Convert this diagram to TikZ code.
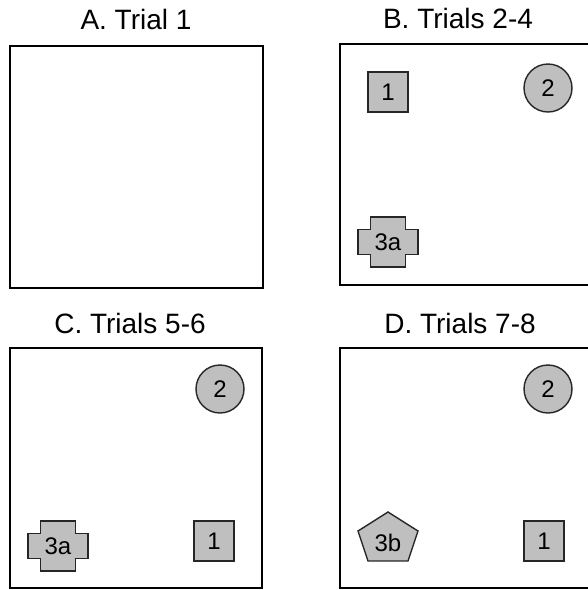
\documentclass[tikz,border=0pt]{standalone}
\usepackage{fontspec}
\setmainfont{Liberation Sans}

\begin{document}
\begin{tikzpicture}[x=1pt,y=-1pt,
  arena/.style={draw, line width=2pt},
  piece/.style={draw=black!85, fill=black!25, line width=1.4pt},
  title/.style={font=\fontsize{28}{30}\selectfont, anchor=base},
  lbl/.style={font=\fontsize{24}{26}\selectfont, inner sep=0pt},
  sq/.style={piece, rectangle, minimum size=40pt, inner sep=0pt, font=\fontsize{24}{26}\selectfont},
  disc/.style={piece, circle, minimum size=48pt, inner sep=0pt, font=\fontsize{24}{26}\selectfont}]

\useasboundingbox (0,0) rectangle (588,590);
\clip (0,0) rectangle (588,590);

\draw [arena] (10,46) rectangle (263,288);
\draw [arena] (340,44) rectangle (594,285);
\draw [arena] (10,348) rectangle (262,588);
\draw [arena] (340,348) rectangle (594,588);

\node [title] (titleA) at (136,29) {A. Trial 1};
\node [title] (titleB) at (458,28) {B. Trials 2-4};
\node [title] (titleC) at (130,333) {C. Trials 5-6};
\node [title] (titleD) at (460,333) {D. Trials 7-8};

\node [sq] (oneB) at (388,92) {1};
\node [disc] (twoB) at (548,88) {2};
\draw [piece, shift={(388,242)}] (-17.5,-25) -- (17.5,-25) -- (17.5,-12.5) -- (30,-12.5) -- (30,12.5) -- (17.5,12.5) -- (17.5,25) -- (-17.5,25) -- (-17.5,12.5) -- (-30,12.5) -- (-30,-12.5) -- (-17.5,-12.5) -- cycle;
\node [lbl] (threeB) at (388,242) {3a};

\node [sq] (oneC) at (214,541) {1};
\node [disc] (twoC) at (220,389) {2};
\draw [piece, shift={(58,546)}] (-17.5,-25) -- (17.5,-25) -- (17.5,-12.5) -- (30,-12.5) -- (30,12.5) -- (17.5,12.5) -- (17.5,25) -- (-17.5,25) -- (-17.5,12.5) -- (-30,12.5) -- (-30,-12.5) -- (-17.5,-12.5) -- cycle;
\node [lbl] (threeC) at (58,546) {3a};

\node [sq] (oneD) at (544,541) {1};
\node [disc] (twoD) at (548,389) {2};
\draw [piece] (388,512) -- (418,531) -- (408,561) -- (368,561) -- (358,531) -- cycle;
\node [lbl] (threeD) at (388,543) {3b};
\end{tikzpicture}
\end{document}
